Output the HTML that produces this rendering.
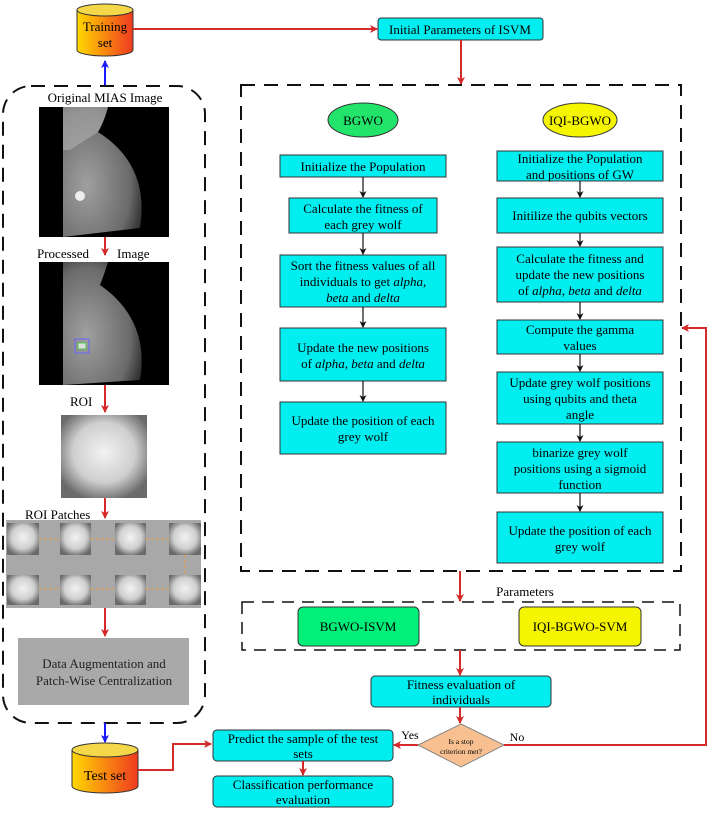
<!DOCTYPE html>
<html><head><meta charset="utf-8"><style>
html,body{margin:0;padding:0;background:#fff;}
svg{display:block;font-family:"Liberation Serif",serif;}
</style></head><body>
<svg width="708" height="820" viewBox="0 0 708 820" xmlns="http://www.w3.org/2000/svg">
<defs>
<linearGradient id="cyl" x1="0" x2="1" y1="0" y2="0"><stop offset="0" stop-color="#ffd800"/><stop offset="1" stop-color="#f03a20"/></linearGradient>
<radialGradient id="mam1" cx="0.3" cy="0.6" r="0.8"><stop offset="0" stop-color="#a0a0a0"/><stop offset="0.7" stop-color="#6a6a6a"/><stop offset="1" stop-color="#202020"/></radialGradient>
<radialGradient id="roi" cx="0.5" cy="0.45" r="0.6"><stop offset="0" stop-color="#f2f2f2"/><stop offset="0.6" stop-color="#cfcfcf"/><stop offset="1" stop-color="#6a6a6a"/></radialGradient>
<marker id="ar" markerWidth="8" markerHeight="8" refX="7" refY="4" orient="auto" markerUnits="userSpaceOnUse"><path d="M0,0 L8,4 L0,8 L2,4 z" fill="#d42a2a"/></marker>
<marker id="ab" markerWidth="8" markerHeight="8" refX="7" refY="4" orient="auto" markerUnits="userSpaceOnUse"><path d="M0,0 L8,4 L0,8 L2,4 z" fill="#1a1aff"/></marker>
<marker id="ak" markerWidth="7" markerHeight="7" refX="6" refY="3.5" orient="auto" markerUnits="userSpaceOnUse"><path d="M0,0 L7,3.5 L0,7 L2,3.5 z" fill="#111"/></marker>
</defs>

<path d="M77,10 L77,50 A28,6 0 0 0 133,50 L133,10" fill="url(#cyl)" stroke="#333" stroke-width="1"/>
<ellipse cx="105" cy="10" rx="28" ry="6" fill="#f5d84a" stroke="#333" stroke-width="1"/>
<text x="105" y="31" font-size="13" text-anchor="middle">Training</text>
<text x="105" y="47" font-size="13" text-anchor="middle">set</text>

<line x1="105" y1="85" x2="105" y2="61" stroke="#1a1aff" stroke-width="2" marker-end="url(#ab)"/>

<line x1="133" y1="29" x2="377" y2="29" stroke="#d42a2a" stroke-width="2" marker-end="url(#ar)"/>
<rect x="378" y="18" width="165" height="22" rx="3" fill="#00eef0" stroke="#333"/>
<text x="460" y="34" font-size="13" text-anchor="middle">Initial Parameters of ISVM</text>
<line x1="461" y1="40" x2="461" y2="84" stroke="#d42a2a" stroke-width="2" marker-end="url(#ar)"/>

<rect x="3" y="86" width="202" height="637" rx="28" fill="none" stroke="#111" stroke-width="2" stroke-dasharray="14,9"/>
<text x="105" y="102" font-size="13" text-anchor="middle">Original MIAS Image</text>
<rect x="39" y="107" width="130" height="130" fill="#000"/>
<path d="M63,107 L108,107 Q104,122 98,132 Q150,165 140,228 L63,237 Z" fill="url(#mam1)"/>
<path d="M63,107 L108,107 Q104,122 98,132 L70,150 L63,150 Z" fill="#b0b0b0" opacity="0.6"/>
<circle cx="80" cy="196" r="5" fill="#eee"/>
<line x1="105" y1="237" x2="105" y2="255" stroke="#d42a2a" stroke-width="2" marker-end="url(#ar)"/>
<text x="37" y="258" font-size="13">Processed</text>
<text x="117" y="258" font-size="13">Image</text>
<rect x="39" y="262" width="130" height="123" fill="#000"/>
<path d="M63,262 L108,262 Q104,275 100,285 Q150,320 140,380 L63,385 Z" fill="url(#mam1)"/>
<rect x="75" y="339" width="14" height="14" fill="none" stroke="#66f" stroke-width="1"/>
<rect x="78" y="343" width="8" height="6" fill="#ddd" stroke="#3c3" stroke-width="0.8"/>
<text x="70" y="406" font-size="13">ROI</text>
<line x1="105" y1="385" x2="105" y2="412" stroke="#d42a2a" stroke-width="2" marker-end="url(#ar)"/>
<rect x="61" y="415" width="86" height="83" fill="url(#roi)"/>
<line x1="105" y1="498" x2="105" y2="518" stroke="#d42a2a" stroke-width="2" marker-end="url(#ar)"/>
<text x="25" y="519" font-size="13">ROI Patches</text>
<rect x="6" y="520" width="195" height="88" fill="#a8a8a8"/>
<g fill="url(#roi)">
<rect x="7" y="523" width="32" height="32"/><rect x="60" y="523" width="31" height="32"/><rect x="115" y="523" width="31" height="32"/><rect x="169" y="523" width="32" height="32"/>
<rect x="7" y="575" width="32" height="30"/><rect x="60" y="575" width="31" height="30"/><rect x="115" y="575" width="31" height="30"/><rect x="169" y="575" width="32" height="30"/>
</g>
<g stroke="#f0a040" stroke-width="1" stroke-dasharray="3,2">
<line x1="39" y1="539" x2="60" y2="539"/><line x1="91" y1="539" x2="115" y2="539"/><line x1="146" y1="539" x2="169" y2="539"/>
<line x1="185" y1="555" x2="185" y2="575"/>
<line x1="39" y1="589" x2="60" y2="589"/><line x1="91" y1="589" x2="115" y2="589"/><line x1="146" y1="589" x2="169" y2="589"/>
</g>
<line x1="105" y1="608" x2="105" y2="636" stroke="#d42a2a" stroke-width="2" marker-end="url(#ar)"/>
<rect x="18" y="638" width="171" height="67" fill="#a9a9a9"/>
<text x="104" y="668" font-size="13" text-anchor="middle" fill="#222">Data Augmentation and</text>
<text x="104" y="685" font-size="13" text-anchor="middle" fill="#222">Patch-Wise Centralization</text>

<line x1="105" y1="723" x2="105" y2="742" stroke="#1a1aff" stroke-width="2" marker-end="url(#ab)"/>
<path d="M72,750 L72,786 A33,7 0 0 0 138,786 L138,750" fill="url(#cyl)" stroke="#333"/>
<ellipse cx="105" cy="750" rx="33" ry="7" fill="#f5d84a" stroke="#333"/>
<text x="105" y="780" font-size="14" text-anchor="middle">Test set</text>
<polyline points="138,770 173,770 173,744 211,744" fill="none" stroke="#d42a2a" stroke-width="2" marker-end="url(#ar)"/>

<rect x="241" y="85" width="440" height="486" fill="none" stroke="#111" stroke-width="2" stroke-dasharray="14,9"/>
<ellipse cx="363" cy="120" rx="35" ry="17" fill="#22e46a" stroke="#333"/>
<text x="363" y="125" font-size="13" text-anchor="middle">BGWO</text>
<ellipse cx="580" cy="120" rx="37" ry="17" fill="#f5f500" stroke="#333"/>
<text x="580" y="125" font-size="13" text-anchor="middle">IQI-BGWO</text>

<g fill="#00eef0" stroke="#333" stroke-width="1">
<rect x="280" y="155" width="166" height="22"/>
<rect x="289" y="198" width="148" height="35"/>
<rect x="280" y="255" width="166" height="52"/>
<rect x="280" y="328" width="166" height="53"/>
<rect x="280" y="402" width="166" height="52"/>
<rect x="497" y="151" width="166" height="30"/>
<rect x="497" y="198" width="166" height="35"/>
<rect x="497" y="247" width="166" height="55"/>
<rect x="497" y="320" width="166" height="34"/>
<rect x="497" y="372" width="166" height="52"/>
<rect x="497" y="442" width="166" height="51"/>
<rect x="497" y="512" width="166" height="51"/>
</g>
<g stroke="#111" stroke-width="1.2">
<line x1="363" y1="177" x2="363" y2="197" marker-end="url(#ak)"/>
<line x1="363" y1="233" x2="363" y2="254" marker-end="url(#ak)"/>
<line x1="363" y1="307" x2="363" y2="327" marker-end="url(#ak)"/>
<line x1="363" y1="381" x2="363" y2="401" marker-end="url(#ak)"/>
<line x1="580" y1="181" x2="580" y2="197" marker-end="url(#ak)"/>
<line x1="580" y1="233" x2="580" y2="246" marker-end="url(#ak)"/>
<line x1="580" y1="302" x2="580" y2="319" marker-end="url(#ak)"/>
<line x1="580" y1="354" x2="580" y2="371" marker-end="url(#ak)"/>
<line x1="580" y1="424" x2="580" y2="441" marker-end="url(#ak)"/>
<line x1="580" y1="493" x2="580" y2="511" marker-end="url(#ak)"/>
</g>
<g font-size="13" text-anchor="middle">
<text x="363" y="171">Initialize the Population</text>
<text x="363" y="213">Calculate the fitness of</text>
<text x="363" y="229">each grey wolf</text>
<text x="363" y="270">Sort the fitness values of all</text>
<text x="363" y="286">individuals to get <tspan font-style="italic">alpha,</tspan></text>
<text x="363" y="302"><tspan font-style="italic">beta</tspan> and <tspan font-style="italic">delta</tspan></text>
<text x="363" y="352">Update the new positions</text>
<text x="363" y="368">of <tspan font-style="italic">alpha, beta</tspan> and <tspan font-style="italic">delta</tspan></text>
<text x="363" y="425">Update the position of each</text>
<text x="363" y="441">grey wolf</text>
<text x="580" y="163">Initialize the Population</text>
<text x="580" y="179">and positions of GW</text>
<text x="580" y="220">Initilize the qubits vectors</text>
<text x="580" y="263">Calculate the fitness and</text>
<text x="580" y="279">update the new positions</text>
<text x="580" y="295">of <tspan font-style="italic">alpha, beta</tspan> and <tspan font-style="italic">delta</tspan></text>
<text x="580" y="334">Compute the gamma</text>
<text x="580" y="350">values</text>
<text x="580" y="387">Update grey wolf positions</text>
<text x="580" y="403">using qubits and theta</text>
<text x="580" y="419">angle</text>
<text x="580" y="457">binarize grey wolf</text>
<text x="580" y="473">positions using a sigmoid</text>
<text x="580" y="489">function</text>
<text x="580" y="535">Update the position of each</text>
<text x="580" y="551">grey wolf</text>
</g>

<line x1="460" y1="571" x2="460" y2="601" stroke="#d42a2a" stroke-width="2" marker-end="url(#ar)"/>
<text x="525" y="596" font-size="13" text-anchor="middle">Parameters</text>
<rect x="242" y="602" width="438" height="48" fill="none" stroke="#111" stroke-width="1.5" stroke-dasharray="12,8"/>
<rect x="298" y="607" width="121" height="39" rx="5" fill="#00f07a" stroke="#333"/>
<text x="358" y="631" font-size="13" text-anchor="middle">BGWO-ISVM</text>
<rect x="519" y="607" width="122" height="39" rx="5" fill="#f5f500" stroke="#333"/>
<text x="580" y="631" font-size="13" text-anchor="middle">IQI-BGWO-SVM</text>
<line x1="460" y1="650" x2="460" y2="675" stroke="#d42a2a" stroke-width="2" marker-end="url(#ar)"/>
<rect x="371" y="676" width="180" height="31" rx="4" fill="#00eef0" stroke="#333"/>
<text x="461" y="689" font-size="13" text-anchor="middle">Fitness evaluation of</text>
<text x="461" y="704" font-size="13" text-anchor="middle">individuals</text>
<line x1="460" y1="707" x2="460" y2="723" stroke="#d42a2a" stroke-width="2" marker-end="url(#ar)"/>
<polygon points="461,724 504,745 461,767 418,745" fill="#f8c090" stroke="#888"/>
<text x="461" y="744" font-size="7.5" text-anchor="middle">Is a stop</text>
<text x="461" y="754" font-size="7.5" text-anchor="middle">criterion met?</text>
<text x="410" y="739" font-size="12" text-anchor="middle">Yes</text>
<text x="517" y="741" font-size="12" text-anchor="middle">No</text>
<line x1="418" y1="745" x2="394" y2="745" stroke="#d42a2a" stroke-width="2" marker-end="url(#ar)"/>
<polyline points="504,745 706,745 706,328 682,328" fill="none" stroke="#d42a2a" stroke-width="2" marker-end="url(#ar)"/>
<rect x="213" y="730" width="180" height="31" rx="4" fill="#00eef0" stroke="#333"/>
<text x="303" y="743" font-size="13" text-anchor="middle">Predict the sample of the test</text>
<text x="303" y="758" font-size="13" text-anchor="middle">sets</text>
<line x1="303" y1="761" x2="303" y2="775" stroke="#d42a2a" stroke-width="2" marker-end="url(#ar)"/>
<rect x="213" y="776" width="180" height="31" rx="4" fill="#00eef0" stroke="#333"/>
<text x="303" y="789" font-size="13" text-anchor="middle">Classification performance</text>
<text x="303" y="804" font-size="13" text-anchor="middle">evaluation</text>
</svg>
</body></html>
